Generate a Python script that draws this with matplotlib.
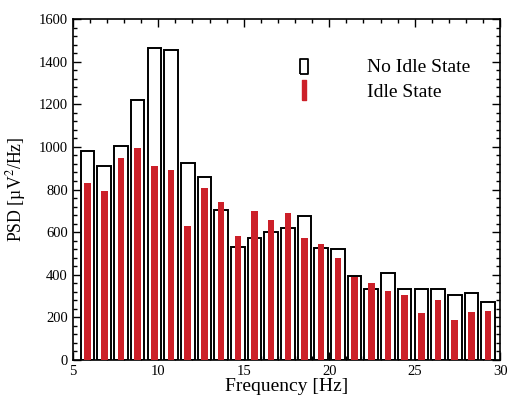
import numpy as np
import matplotlib
matplotlib.use('Agg')
import matplotlib.pyplot as plt
from matplotlib.lines import Line2D
from matplotlib.ticker import MultipleLocator

plt.rcParams['font.family'] = ['Liberation Serif', 'DejaVu Serif']
plt.rcParams['mathtext.fontset'] = 'stix'

# --- DATOS ---
freq = [5.86, 6.84, 7.81, 8.79, 9.77, 10.74, 11.72, 12.70, 13.67, 14.65,
        15.63, 16.60, 17.58, 18.55, 19.53, 20.51, 21.48, 22.46, 23.44, 24.41,
        25.39, 26.37, 27.34, 28.32, 29.30]
no_idle = [981, 912, 1006, 1221, 1463, 1455, 926, 861, 704, 529,
           573, 600, 617, 676, 527, 520, 394, 335, 407, 332,
           332, 335, 304, 313, 271]
idle = [832, 793, 950, 997, 911, 893, 631, 809, 740, 584,
        701, 657, 689, 571, 546, 480, 391, 360, 322, 304,
        219, 280, 189, 225, 230]
rojo = '#cc2029'

# --- GRAFICA ---
fig = plt.figure(figsize=(5.13, 3.99), dpi=100)
ax = fig.add_axes([0.142, 0.098, 0.833, 0.854])

ax.bar(freq, no_idle, width=0.8, color='white', edgecolor='black', linewidth=1.4, zorder=2)
ax.bar(freq, idle, width=0.38, color=rojo, linewidth=0, zorder=3)

ax.set_xlim(5, 30)
ax.set_ylim(0, 1600)
ax.xaxis.set_major_locator(MultipleLocator(5))
ax.xaxis.set_minor_locator(MultipleLocator(1))
ax.yaxis.set_major_locator(MultipleLocator(200))
ax.yaxis.set_minor_locator(MultipleLocator(40))
ax.tick_params(which='both', direction='in', top=True, right=True, labelsize=10.5, width=1)
ax.tick_params(which='major', length=6)
ax.tick_params(which='minor', length=3)
for s in ax.spines.values():
    s.set_linewidth(1.2)

ax.set_xlabel('Frequency [Hz]', fontsize=14, labelpad=0)
ax.set_ylabel(r'PSD [µV$^2$/Hz]', fontsize=12.8, labelpad=8)

caja = [(-0.27, -0.5), (0.27, -0.5), (0.27, 0.5), (-0.27, 0.5), (-0.27, -0.5)]
barra = [(-0.17, -1), (0.17, -1), (0.17, 1), (-0.17, 1), (-0.17, -1)]
h1 = Line2D([], [], marker=caja, markersize=10.8, markerfacecolor='white',
            markeredgecolor='black', markeredgewidth=1.3, linestyle='none')
h2 = Line2D([], [], marker=barra, markersize=13.7, markerfacecolor=rojo,
            markeredgecolor=rojo, linestyle='none')
ax.legend([h1, h2], ['No Idle State', 'Idle State'], loc='upper left',
          bbox_to_anchor=(0.478, 0.935), frameon=False, fontsize=14,
          handlelength=1.0, handletextpad=2.7, labelspacing=0.35)

fig.savefig('out.png', dpi=100)
